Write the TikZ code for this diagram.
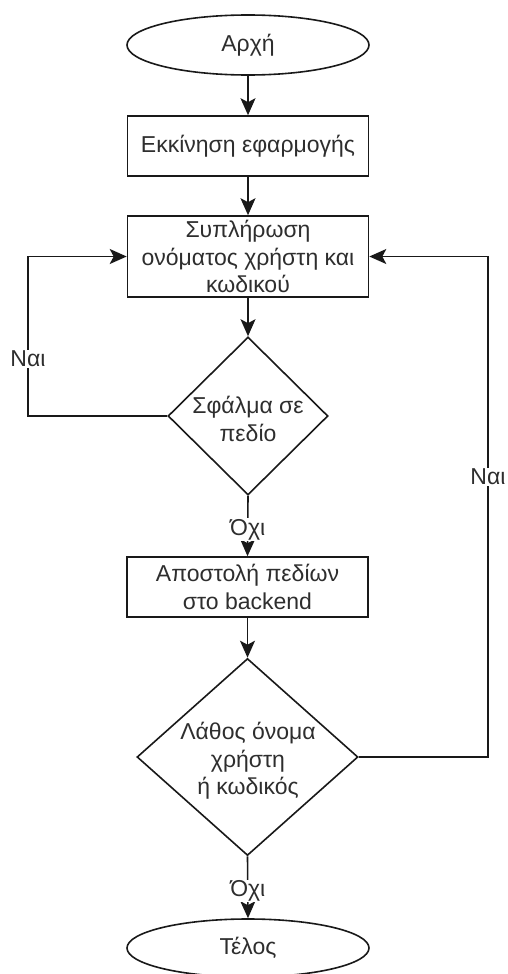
\documentclass[tikz,border=0pt]{standalone}
\usepackage{fontspec}
\setmainfont{Liberation Sans}
\usetikzlibrary{shapes.geometric,arrows.meta}
\begin{document}
\begin{tikzpicture}[x=1pt,y=-1pt,
  txt/.style={font=\fontsize{23}{27.5}\selectfont, text=black!82, align=center},
  outline/.style={draw=black!90, line width=1.6pt, fill=white},
  terminal/.style={txt, outline, ellipse, inner sep=0pt, minimum width=242pt, minimum height=60pt},
  process/.style={txt, outline, rectangle, inner sep=2pt, minimum width=241pt},
  decision/.style={outline, diamond, inner sep=0pt},
  flow/.style={draw=black!90, line width=1.6pt, -{Stealth[length=17pt,width=15pt,inset=4pt]}},
  edgelabel/.style={txt, fill=white, inner sep=1pt}
]
\useasboundingbox (0,0) rectangle (507,974);

% shapes of the flow
\node[terminal] (start) at (248,45) {Αρχή};
\node[process, minimum height=60pt] (init) at (248,146) {Εκκίνηση εφαρμογής};
\node[process, minimum height=81pt] (fill) at (248,256.5) {Συπλήρωση\\ονόματος χρήστη και\\κωδικού};
\node[decision, minimum width=160pt, minimum height=158pt] (chk1) at (248,416) {};
\node[txt] (chk1txt) at (248,419) {Σφάλμα σε\\πεδίο};
\node[process, minimum height=60pt] (send) at (247.5,587) {Αποστολή πεδίων\\στο backend};
\node[decision, minimum width=221pt, minimum height=197pt] (chk2) at (247.5,757) {};
\node[txt] (chk2txt) at (248,761) {Λάθος όνομα\\χρήστη\\ή κωδικός};
\node[terminal, minimum height=58pt] (end) at (248,948) {Τέλος};

% columns of the two loops
\coordinate (lx) at (28,0);
\coordinate (rx) at (488,0);

% connectors
\draw[flow] (start) -- (init);
\draw[flow] (init) -- (fill);
\draw[flow] (fill) -- (chk1);
\draw[flow] (chk1.south) -- node[edgelabel, pos=0.56] (no1) {Όχι} (send.north);
\draw[flow] (send) -- (chk2);
\draw[flow] (chk2.south) -- node[edgelabel, pos=0.56] (no2) {Όχι} (end.north);
\draw[flow] (chk1.west) -- (chk1.west -| lx) |- node[edgelabel, pos=0.18] (yes1) {Ναι} (fill.west);
\draw[flow] (chk2.east) -- (chk2.east -| rx) |- node[edgelabel, pos=0.28] (yes2) {Ναι} (fill.east);
\end{tikzpicture}
\end{document}
